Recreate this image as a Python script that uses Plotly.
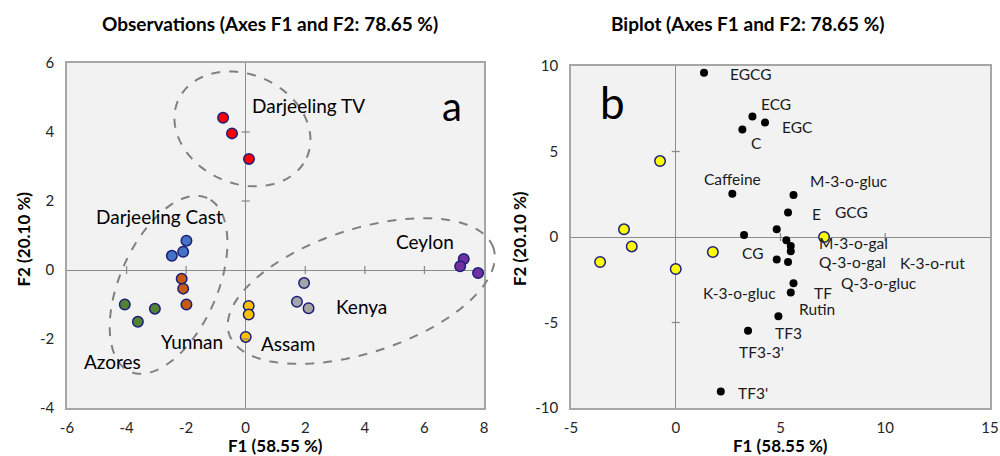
import numpy as np
import plotly.graph_objects as go

W, H = 1000, 456
FONT = "Lato"

# ---------------- Panel a: observations ----------------
obs_groups = ["Darjeeling TV", "Darjeeling Cast", "Yunnan", "Azores", "Assam", "Kenya", "Ceylon"]
obs_colors = ["#FF0000", "#4472C4", "#C55A11", "#548235", "#FFC000", "#A5A5A5", "#7030A0"]
obs_x = [
    [-0.76, -0.46, 0.11],
    [-1.99, -2.10, -2.48],
    [-2.15, -2.10, -1.99],
    [-4.06, -3.62, -3.05],
    [0.10, 0.10, 0.00],
    [1.96, 1.72, 2.11],
    [7.32, 7.20, 7.80],
]
obs_y = [
    [4.41, 3.96, 3.22],
    [0.85, 0.53, 0.41],
    [-0.25, -0.54, -1.00],
    [-1.00, -1.50, -1.12],
    [-1.04, -1.29, -1.94],
    [-0.38, -0.92, -1.11],
    [0.32, 0.11, -0.09],
]
# label anchor positions (left edge, middle)
grp_lbl_x = [0.16, -5.10, -2.91, -5.51, 0.45, 2.96, 4.98]
grp_lbl_y = [4.76, 1.56, -2.08, -2.66, -2.13, -1.05, 0.82]

a_xticks = [-6, -4, -2, 0, 2, 4, 6, 8]
a_xticktext = ["-6", "-4", "-2", "0", "2", "4", "6", "8"]
a_yticks = [-4, -2, 0, 2, 4, 6]
a_yticktext = ["-4", "-2", "0", "2", "4", "6"]

# ellipses: centre (data), semi-axes (px), screen angle (deg)
ell_cx = [-0.11, -2.59, 3.88]
ell_cy = [4.09, -0.43, -0.61]
ell_a = [70.4, 95.0, 139.0]
ell_b = [54.5, 48.6, 61.8]
ell_ang = [-24.0, 66.0, 18.0]

# ---------------- Panel b: biplot ----------------
bi_obs_x = [-0.75, -2.47, -2.10, -3.61, 0.00, 1.77, 7.08]
bi_obs_y = [4.44, 0.45, -0.55, -1.46, -1.87, -0.88, 0.00]

var_x = [1.35, 3.66, 4.26, 3.18, 2.70, 5.62, 5.36, 4.82, 3.26, 5.28,
         5.49, 5.49, 4.82, 5.36, 5.62, 5.49, 4.90, 3.45, 2.15]
var_y = [9.61, 7.04, 6.69, 6.28, 2.53, 2.46, 1.44, 0.45, 0.12, -0.19,
         -0.53, -0.84, -1.31, -1.46, -2.71, -3.24, -4.64, -5.48, -9.04]

var_names = ["EGCG", "ECG", "EGC", "C", "Caffeine", "M-3-o-gluc", "E", "GCG", "CG",
             "M-3-o-gal", "Q-3-o-gal", "K-3-o-rut", "Q-3-o-gluc", "K-3-o-gluc", "TF",
             "Rutin", "TF3", "TF3-3'", "TF3'"]
var_lbl_x = [2.48, 3.98, 4.98, 3.50, 1.24, 6.30, 6.41, 7.51, 3.07, 6.73,
             6.73, 10.61, 7.80, 1.19, 6.52, 5.81, 4.65, 2.90, 2.86]
var_lbl_y = [9.55, 7.80, 6.43, 5.50, 3.41, 3.26, 1.36, 1.46, -0.92, -0.33,
             -1.46, -1.52, -2.69, -3.30, -3.30, -4.20, -5.61, -6.73, -9.10]

b_xticks = [-5, 0, 5, 10, 15]
b_xticktext = ["-5", "0", "5", "10", "15"]
b_yticks = [-10, -5, 0, 5, 10]
b_yticktext = ["-10", "-5", "0", "5", "10"]

# ---------------- layout geometry (px) ----------------
A_L, A_R, A_T, A_B = 67, 484, 63, 408
B_L, B_R, B_T, B_B = 571, 990, 66, 408
a_xr, a_yr = [-6, 8], [-4, 6]
b_xr, b_yr = [-5, 15], [-10, 10]

fig = go.Figure()

OUTLINE = "#1B1F7A"
for g, col, xs, ys in zip(obs_groups, obs_colors, obs_x, obs_y):
    fig.add_trace(go.Scatter(x=xs, y=ys, mode="markers", name=g,
                             marker=dict(size=10.5, color=col, line=dict(color=OUTLINE, width=1.5)),
                             xaxis="x", yaxis="y", showlegend=False, hoverinfo="skip"))

fig.add_trace(go.Scatter(x=var_x, y=var_y, mode="markers",
                         marker=dict(size=8, color="#000000"),
                         xaxis="x2", yaxis="y2", showlegend=False, hoverinfo="skip"))
fig.add_trace(go.Scatter(x=bi_obs_x, y=bi_obs_y, mode="markers",
                         marker=dict(size=10.5, color="#FFFF00", line=dict(color=OUTLINE, width=1.5)),
                         xaxis="x2", yaxis="y2", showlegend=False, hoverinfo="skip"))

annotations = []
shapes = []

for name, lx, ly in zip(obs_groups, grp_lbl_x, grp_lbl_y):
    annotations.append(dict(x=lx, y=ly, xref="x", yref="y", text=name, showarrow=False,
                            xanchor="left", yanchor="middle",
                            font=dict(family=FONT, size=19, color="#000000")))
for name, lx, ly in zip(var_names, var_lbl_x, var_lbl_y):
    annotations.append(dict(x=lx, y=ly, xref="x2", yref="y2", text=name, showarrow=False,
                            xanchor="left", yanchor="middle",
                            font=dict(family=FONT, size=15.5, color="#1a1a1a")))

annotations.append(dict(x=6.51, y=4.76, xref="x", yref="y", text="a", showarrow=False,
                        xanchor="left", yanchor="middle", font=dict(family=FONT, size=40, color="#000")))
annotations.append(dict(x=-3.69, y=7.89, xref="x2", yref="y2", text="b", showarrow=False,
                        xanchor="left", yanchor="middle", font=dict(family=FONT, size=44, color="#000")))

def px(xp):
    return xp / W

def py(yp):
    return 1 - yp / H

# titles
annotations.append(dict(x=px(270), y=py(24), xref="paper", yref="paper",
                        text="<b>Observations (Axes F1 and F2: 78.65 %)</b>", showarrow=False,
                        xanchor="center", yanchor="middle", font=dict(family=FONT, size=19, color="#000")))
annotations.append(dict(x=px(748), y=py(24), xref="paper", yref="paper",
                        text="<b>Biplot (Axes F1 and F2: 78.65 %)</b>", showarrow=False,
                        xanchor="center", yanchor="middle", font=dict(family=FONT, size=19, color="#000")))
# axis titles
for cx in [(A_L + A_R) / 2, (B_L + B_R) / 2]:
    annotations.append(dict(x=px(cx), y=py(445), xref="paper", yref="paper",
                            text="<b>F1 (58.55 %)</b>", showarrow=False,
                            xanchor="center", yanchor="middle", font=dict(family=FONT, size=17, color="#000")))
for xx, cy in [(23, (A_T + A_B) / 2 + 4), (519, (B_T + B_B) / 2 + 2)]:
    annotations.append(dict(x=px(xx), y=py(cy), xref="paper", yref="paper",
                            text="<b>F2 (20.10 %)</b>", showarrow=False, textangle=-90,
                            xanchor="center", yanchor="middle", font=dict(family=FONT, size=17, color="#000")))

# ellipses (drawn in paper space so they may run past the plot frame, as in the original)
sx = (A_R - A_L) / (a_xr[1] - a_xr[0])
sy = (A_B - A_T) / (a_yr[1] - a_yr[0])
s = np.linspace(0, 2 * np.pi, 121)
for cx, cy, a, b, ang in zip(ell_cx, ell_cy, ell_a, ell_b, ell_ang):
    t = np.deg2rad(ang)
    dx = a * np.cos(s) * np.cos(t) - b * np.sin(s) * np.sin(t)
    dy = a * np.cos(s) * np.sin(t) + b * np.sin(s) * np.cos(t)
    cpx = A_L + (cx - a_xr[0]) * sx
    cpy = A_B - (cy - a_yr[0]) * sy
    xs = [px(v) for v in cpx + dx]
    ys = [py(v) for v in cpy - dy]
    path = "M " + " L ".join(f"{x:.5f},{y:.5f}" for x, y in zip(xs, ys)) + " Z"
    shapes.append(dict(type="path", path=path, xref="paper", yref="paper",
                       line=dict(color="#808080", width=2, dash="dash")))

# tick marks on the zero lines
def zero_ticks(xref, yref, xticks, yticks):
    out = []
    for v in xticks[1:-1]:
        if v == 0:
            continue
        out.append(dict(type="line", xref=xref, yref=yref, x0=v, x1=v,
                        ysizemode="pixel", yanchor=0, y0=-4, y1=4,
                        line=dict(color="#8C8C8C", width=1.3)))
    for v in yticks[1:-1]:
        if v == 0:
            continue
        out.append(dict(type="line", xref=xref, yref=yref, y0=v, y1=v,
                        xsizemode="pixel", xanchor=0, x0=-4, x1=4,
                        line=dict(color="#8C8C8C", width=1.3)))
    return out

shapes += zero_ticks("x", "y", a_xticks, a_yticks)
shapes += zero_ticks("x2", "y2", b_xticks, b_yticks)

axis_common = dict(showgrid=False, zeroline=True, zerolinecolor="#8C8C8C", zerolinewidth=1.3,
                   showline=True, mirror=True, linecolor="#A6A6A6", linewidth=1.5,
                   automargin=False,
                   ticks="", tickfont=dict(family=FONT, size=15, color="#262626"), fixedrange=True)

fig.update_layout(
    template="none",
    width=W, height=H,
    margin=dict(l=0, r=0, t=0, b=0, autoexpand=False),
    paper_bgcolor="white",
    plot_bgcolor="#F2F2F2",
    xaxis=dict(domain=[A_L / W, A_R / W], range=a_xr, tickmode="array", tickvals=a_xticks,
               ticktext=a_xticktext, anchor="y", ticklabelstandoff=5, **axis_common),
    yaxis=dict(domain=[1 - A_B / H, 1 - A_T / H], range=a_yr, tickmode="array", tickvals=a_yticks,
               ticktext=a_yticktext, anchor="x", ticklabelstandoff=8, **axis_common),
    xaxis2=dict(domain=[B_L / W, B_R / W], range=b_xr, tickmode="array", tickvals=b_xticks,
                ticktext=b_xticktext, anchor="y2", ticklabelstandoff=5, **axis_common),
    yaxis2=dict(domain=[1 - B_B / H, 1 - B_T / H], range=b_yr, tickmode="array", tickvals=b_yticks,
                ticktext=b_yticktext, anchor="x2", ticklabelstandoff=8, **axis_common),
    annotations=annotations,
    shapes=shapes,
)

fig.write_html("out.html", config={"displayModeBar": False},
               post_script="document.body.style.margin='0px';document.body.style.overflow='hidden';")
